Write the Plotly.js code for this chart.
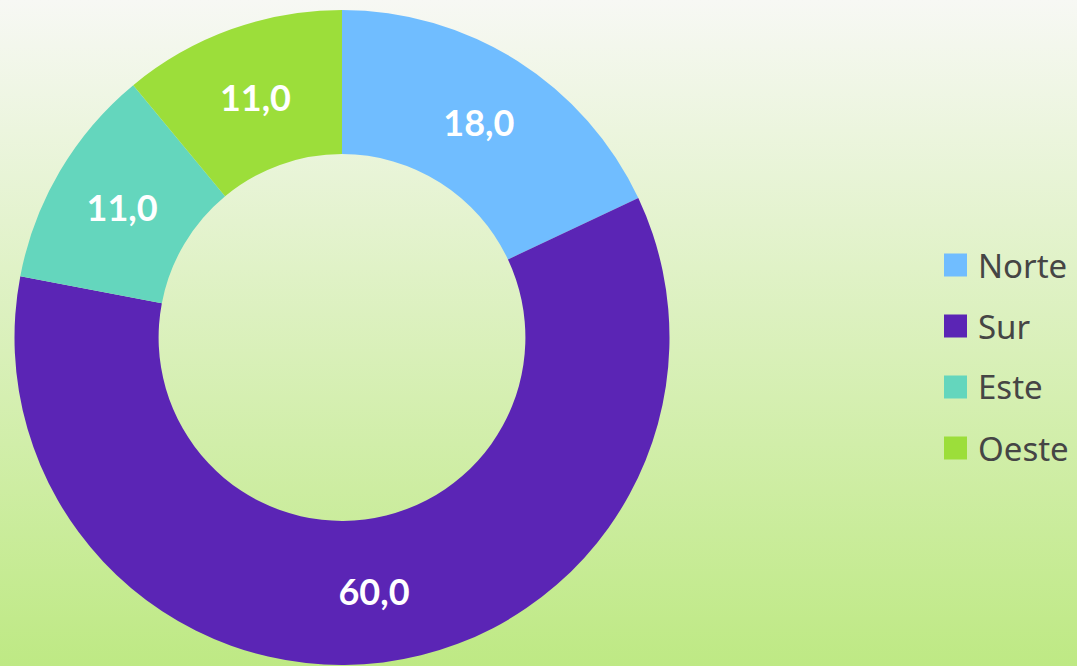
<!DOCTYPE html>
<html>
<head>
<meta charset="utf-8">
<script src="https://cdn.plot.ly/plotly-3.0.1.min.js"></script>
<style>
html,body{margin:0;padding:0;}
body{width:1077px;height:666px;background:linear-gradient(to bottom,#f7f8f4 0%,#bee984 100%);overflow:hidden;}
#chart{width:1077px;height:666px;}
</style>
</head>
<body>
<div id="chart"></div>
<script>
const labels = ["Norte", "Sur", "Este", "Oeste"];
const values = [18.0, 60.0, 11.0, 11.0];
const colors = ["#70bdff", "#5b25b5", "#64d6bd", "#9cde3a"];

const W = 1077, H = 666;
const trace = {
  type: "pie",
  labels: labels,
  values: values,
  hole: 0.56,
  sort: false,
  direction: "clockwise",
  rotation: 0,
  marker: {colors: colors, line: {width: 0}},
  texttemplate: "%{value:.1f}",
  textinfo: "value",
  textposition: "inside",
  insidetextorientation: "horizontal",
  insidetextfont: {family: "Lato, 'Noto Sans', sans-serif", size: 36, color: "#ffffff", weight: 700},
  domain: {x: [13 / W, 671 / W], y: [1 - 665 / H, 1 - 10 / H]},
  showlegend: false,
  hoverinfo: "label+value"
};

const shapes = [];
const annotations = [];
const legendTop = 265, legendStep = 61;
labels.forEach((lab, i) => {
  const cy = legendTop + i * legendStep;
  shapes.push({
    type: "rect", xref: "paper", yref: "paper",
    x0: 944 / W, x1: 967 / W,
    y0: 1 - (cy + 11.5) / H, y1: 1 - (cy - 11.5) / H,
    fillcolor: colors[i], line: {width: 0}
  });
  annotations.push({
    xref: "paper", yref: "paper",
    x: 976 / W, y: 1 - cy / H,
    xanchor: "left", yanchor: "middle",
    text: lab, showarrow: false,
    font: {family: "'Noto Sans', sans-serif", size: 33, color: "#454545"}
  });
});

const layout = {
  width: W, height: H,
  margin: {l: 0, r: 0, t: 0, b: 0},
  paper_bgcolor: "rgba(0,0,0,0)",
  plot_bgcolor: "rgba(0,0,0,0)",
  separators: ",.",
  showlegend: false,
  shapes: shapes,
  annotations: annotations
};

Plotly.newPlot("chart", [trace], layout, {displayModeBar: false, staticPlot: true});
</script>
</body>
</html>
